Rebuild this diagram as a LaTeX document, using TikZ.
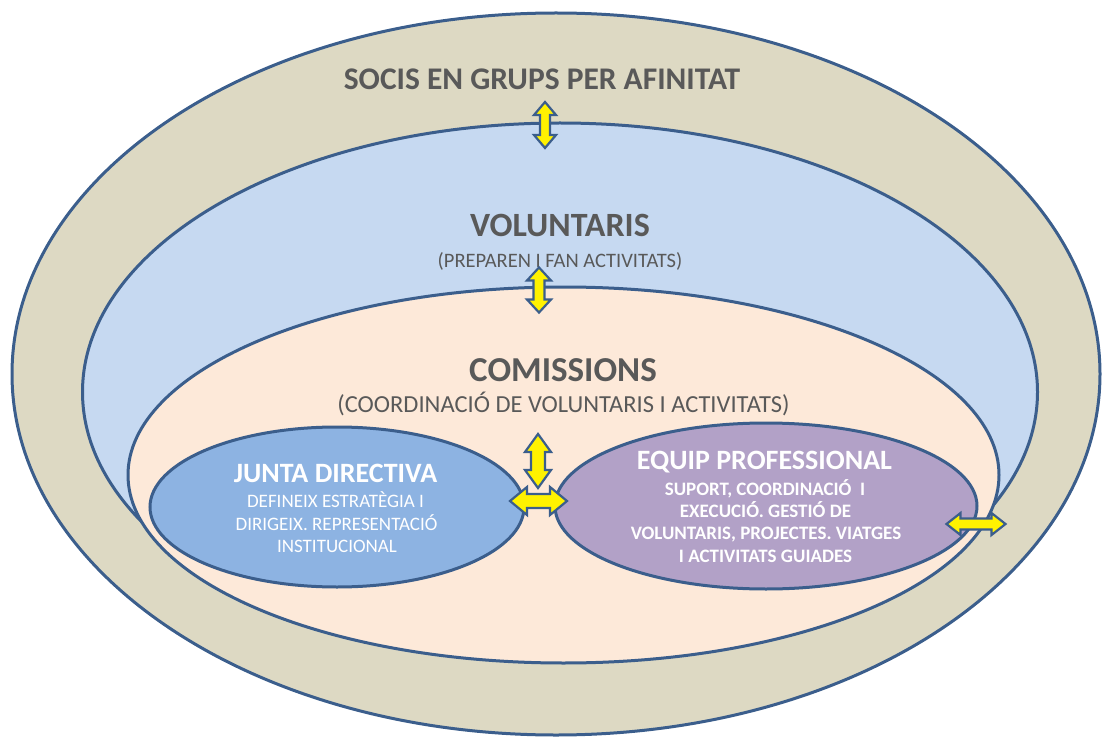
\documentclass[tikz,border=0pt]{standalone}
\usepackage{fontspec}
\setmainfont{Carlito}
\usetikzlibrary{shapes.geometric}
\definecolor{tanc}{HTML}{DDD9C3}
\definecolor{bluec}{HTML}{C6D9F1}
\definecolor{peachc}{HTML}{FDE9D9}
\definecolor{juntac}{HTML}{8DB3E2}
\definecolor{equipc}{HTML}{B2A1C7}
\definecolor{edgec}{HTML}{3B5E8C}
\definecolor{txtgray}{HTML}{595959}
\tikzset{
  ring/.style={ellipse, draw=edgec, line width=3pt, inner sep=0pt, outer sep=0pt},
  arr/.style={draw=edgec, fill=yellow, line width=2.2pt, line join=miter},
  capbox/.style={inner sep=0pt, text depth=0pt},
  graytxt/.style={capbox, text=txtgray},
  whitetxt/.style={capbox, text=white},
}
% x y angle length headhalf shafthalf headlen
\newcommand{\yelarrow}[7]{%
  \begin{scope}[shift={(#1,#2)},rotate=#3]
    \draw[arr] ({-#4/2},0) -- ({-#4/2+#7},#5) -- ({-#4/2+#7},#6) -- ({#4/2-#7},#6)
      -- ({#4/2-#7},#5) -- ({#4/2},0) -- ({#4/2-#7},-#5) -- ({#4/2-#7},-#6)
      -- ({-#4/2+#7},-#6) -- ({-#4/2+#7},-#5) -- cycle;
  \end{scope}}
\begin{document}
\begin{tikzpicture}[x=1pt,y=-1pt]
\useasboundingbox (0,0) rectangle (1103,738);
% nested ellipses
\node[ring, fill=tanc, minimum width=1088pt, minimum height=722pt] (socis) at (556,374) {};
\node[ring, fill=bluec, minimum width=955pt, minimum height=538pt] (volunt) at (560,392) {};
\node[ring, fill=peachc, minimum width=871pt, minimum height=376pt] (comis) at (563.5,475) {};
\node[ring, fill=juntac, minimum width=374pt, minimum height=160pt] (junta) at (337,507) {};
\node[ring, fill=equipc, minimum width=422pt, minimum height=166pt] (equip) at (766,506) {};
% texts
\node[graytxt, text height=20.3pt, font=\fontsize{31.5}{36}\selectfont\bfseries] (t1) at (542,79) {SOCIS EN GRUPS PER AFINITAT};
\node[graytxt, text height=21.9pt, font=\fontsize{34}{40}\selectfont\bfseries] (t2) at (560,226) {VOLUNTARIS};
\node[graytxt, text height=13.2pt, font=\fontsize{20.5}{24}\selectfont] (t2b) at (560,260.5) {(PREPAREN I FAN ACTIVITATS)};
\node[graytxt, text height=22.5pt, font=\fontsize{35}{40}\selectfont\bfseries] (t3) at (563,370) {COMISSIONS};
\node[graytxt, text height=15.8pt, font=\fontsize{24.5}{28}\selectfont] (t3b) at (563.5,405) {(COORDINACIÓ DE VOLUNTARIS I ACTIVITATS)};
\node[whitetxt, text height=18pt, font=\fontsize{28}{32}\selectfont\bfseries] (t4) at (335.5,473.5) {JUNTA DIRECTIVA};
\node[whitetxt, text height=12.2pt, font=\fontsize{19}{22}\selectfont] (t4a) at (335.5,501.5) {DEFINEIX ESTRATÈGIA I};
\node[whitetxt, text height=12.2pt, font=\fontsize{19}{22}\selectfont] (t4b) at (336.5,524) {DIRIGEIX. REPRESENTACIÓ};
\node[whitetxt, text height=12.2pt, font=\fontsize{19}{22}\selectfont] (t4c) at (337,546) {INSTITUCIONAL};
\node[whitetxt, text height=18pt, font=\fontsize{28}{32}\selectfont\bfseries] (t5) at (764.5,460) {EQUIP PROFESSIONAL};
\node[whitetxt, text height=12.2pt, font=\fontsize{19}{22}\selectfont\bfseries] (t5a) at (765,489) {SUPORT, COORDINACIÓ\ \ I};
\node[whitetxt, text height=12.2pt, font=\fontsize{19}{22}\selectfont\bfseries] (t5b) at (765.5,511.5) {EXECUCIÓ. GESTIÓ DE};
\node[whitetxt, text height=12.2pt, font=\fontsize{19}{22}\selectfont\bfseries] (t5c) at (766,533) {VOLUNTARIS, PROJECTES. VIATGES};
\node[whitetxt, text height=12.2pt, font=\fontsize{19}{22}\selectfont\bfseries] (t5d) at (765.5,556) {I ACTIVITATS GUIADES};
% arrows
\yelarrow{545}{125}{90}{46}{11}{5}{13}
\yelarrow{539}{290}{90}{45}{12}{5.5}{13}
\yelarrow{538.5}{501}{0}{57}{14}{7}{17}
\yelarrow{538}{461}{90}{54}{13}{7}{18}
\yelarrow{976}{524}{0}{59}{11}{5.5}{14}
\end{tikzpicture}
\end{document}
